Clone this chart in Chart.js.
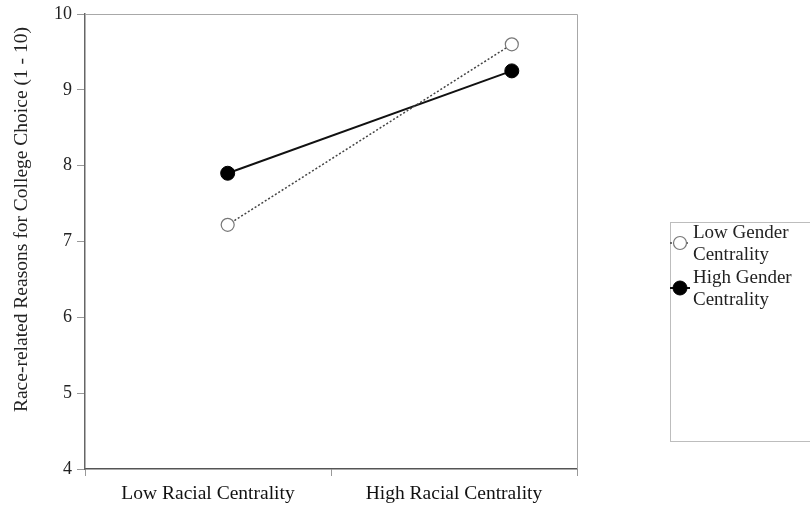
<!DOCTYPE html>
<html>
<head>
<meta charset="utf-8">
<script src="https://cdn.jsdelivr.net/npm/chart.js@4.4.1/dist/chart.umd.min.js"></script>
<style>
  html, body { margin: 0; padding: 0; background: #fff; }
  #wrap { width: 810px; height: 510px; }
</style>
</head>
<body>
<div id="wrap"><canvas id="chart" width="810" height="510"></canvas></div>
<script>
const categories = ['Low Racial Centrality', 'High Racial Centrality'];
// where each group's points sit along the hidden 0–2 x scale
const groupX = [0.58, 1.735];
const lowGender = [7.22, 9.60];
const highGender = [7.90, 9.25];
const seriesNames = [['Low Gender', 'Centrality'], ['High Gender', 'Centrality']];

const SERIF = '"Liberation Serif", "DejaVu Serif", serif';

// --- frame: light top/right border around the plot ---
const framePlugin = {
  id: 'frame',
  beforeDatasetsDraw(chart) {
    const { ctx, chartArea: a } = chart;
    ctx.save();
    ctx.strokeStyle = '#a8a8a8';
    ctx.lineWidth = 1;
    ctx.beginPath();
    ctx.moveTo(a.left, a.top + 0.5);
    ctx.lineTo(a.right + 0.5, a.top + 0.5);
    ctx.lineTo(a.right + 0.5, a.bottom);
    ctx.stroke();
    ctx.restore();
  }
};

// --- legend box on the right ---
const legendPlugin = {
  id: 'sideLegend',
  afterDraw(chart) {
    const { ctx } = chart;
    const box = { x: 670, y: 222, w: 150, h: 219 };
    ctx.save();
    ctx.strokeStyle = '#bdbdbd';
    ctx.lineWidth = 1;
    ctx.strokeRect(box.x + 0.5, box.y + 0.5, box.w, box.h);

    chart.data.datasets.forEach((ds, i) => {
      const cy = 243 + i * 45;
      ctx.strokeStyle = ds.borderColor;
      ctx.lineWidth = ds.borderWidth;
      ctx.setLineDash(ds.borderDash || []);
      ctx.beginPath();
      ctx.moveTo(670, cy);
      ctx.lineTo(690, cy);
      ctx.stroke();
      ctx.setLineDash([]);
      ctx.beginPath();
      ctx.arc(680, cy, ds.pointRadius, 0, Math.PI * 2);
      ctx.fillStyle = ds.pointBackgroundColor;
      ctx.fill();
      ctx.strokeStyle = ds.pointBorderColor;
      ctx.lineWidth = ds.pointBorderWidth;
      ctx.stroke();

      ctx.fillStyle = '#222';
      ctx.font = '19px ' + SERIF;
      ctx.textBaseline = 'middle';
      ctx.textAlign = 'left';
      ctx.fillText(seriesNames[i][0], 693, cy - 10);
      ctx.fillText(seriesNames[i][1], 693, cy + 12);
    });
    ctx.restore();
  }
};

const ctx = document.getElementById('chart').getContext('2d');
new Chart(ctx, {
  type: 'line',
  data: {
    datasets: [
      {
        label: 'Low Gender Centrality',
        data: groupX.map((x, i) => ({ x, y: lowGender[i] })),
        xAxisID: 'xp',
        borderColor: '#444',
        borderWidth: 1.5,
        borderDash: [2, 2],
        pointRadius: 6.5,
        pointBackgroundColor: '#fff',
        pointBorderColor: '#777',
        pointBorderWidth: 1.2,
      },
      {
        label: 'High Gender Centrality',
        data: groupX.map((x, i) => ({ x, y: highGender[i] })),
        xAxisID: 'xp',
        borderColor: '#111',
        borderWidth: 2,
        pointRadius: 7,
        pointBackgroundColor: '#000',
        pointBorderColor: '#000',
        pointBorderWidth: 1,
      }
    ]
  },
  options: {
    responsive: false,
    animation: false,
    events: [],
    layout: { padding: { top: 14, right: 233, left: 0, bottom: 0 } },
    plugins: { legend: { display: false }, tooltip: { enabled: false } },
    scales: {
      x: {
        type: 'category',
        labels: categories,
        offset: true,
        grid: { offset: true, drawOnChartArea: false, drawTicks: true, tickLength: 7, color: '#999' },
        border: { color: '#555', width: 1.5 },
        ticks: { color: '#111', font: { family: SERIF, size: 19.5 }, padding: 6 },
        afterFit: (s) => { s.height = 41; s.paddingLeft = 0; s.paddingRight = 0; },
      },
      xp: {
        type: 'linear',
        min: 0,
        max: 2,
        display: false,
      },
      y: {
        min: 4,
        max: 10,
        ticks: { stepSize: 1, color: '#222', font: { family: SERIF, size: 18 }, padding: 5 },
        grid: { drawOnChartArea: false, drawTicks: true, tickLength: 8, color: '#999' },
        border: { color: '#666', width: 1.5 },
        title: {
          display: true,
          // leading spaces lift the title the way the original sits above centre
          text: '\u00a0'.repeat(9) + 'Race-related Reasons for College Choice (1 - 10)',
          color: '#222',
          font: { family: SERIF, size: 19.5 },
          padding: { top: 10, bottom: 4 },
        },
        afterFit: (s) => { s.width = 85; s.paddingTop = 0; s.paddingBottom = 0; },
      }
    }
  },
  plugins: [framePlugin, legendPlugin]
});
</script>
</body>
</html>
